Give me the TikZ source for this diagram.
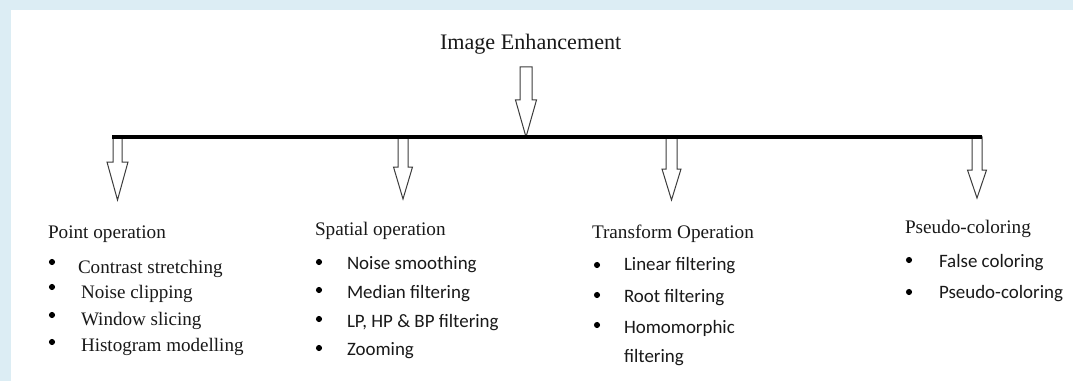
\documentclass[tikz,border=0pt]{standalone}
\usepackage{fontspec}
\setmainfont{Liberation Serif}
\newfontfamily\calib{Carlito}
\definecolor{frameblue}{RGB}{220,237,244}
\definecolor{arrowgrey}{RGB}{60,60,60}
\tikzset{
  every node/.style={inner sep=0pt, outer sep=0pt},
  lbl/.style={anchor=base west, text=black!90},
  titletext/.style={lbl, font=\fontsize{16.6pt}{18pt}\selectfont},
  headtext/.style={lbl, font=\fontsize{14.4pt}{16pt}\selectfont},
  serifitem/.style={lbl, font=\fontsize{14.3pt}{16pt}\selectfont},
  sansitem/.style={lbl, font=\calib\fontsize{14.2pt}{16pt}\selectfont},
  dot/.style={circle, fill=black, minimum size=4.6pt},
  arrowline/.style={draw=arrowgrey, line width=0.75pt, fill=white, line join=miter},
  bar/.style={draw=black, line width=2.3pt},
  % hollow block arrow pointing down: shaft half width / head half width / head start / tip
  pics/blockdown/.style args={#1/#2/#3/#4}{code={
    \path[arrowline] (-#1,0) -- (-#1,#3) -- (-#2,#3) -- (0,#4) -- (#2,#3) -- (#1,#3) -- (#1,0) -- cycle;
  }}
}
\begin{document}
\begin{tikzpicture}[x=0.75pt, y=-0.75pt]
  % page frame
  \fill[frameblue] (0,0) rectangle (1073,381);
  \fill[white] (11,10) rectangle (1073,381);
  \useasboundingbox (0,0) rectangle (1073,381);

  % root
  \node[titletext] (title) at (440,50) {Image Enhancement};
  \pic at (526,67) {blockdown=6/10.5/33/70};

  % branch arrows
  \pic at (117.5,137) {blockdown=4.5/10.5/25/63};
  \pic at (403,137) {blockdown=5/9.5/30/62};
  \pic at (671.5,137) {blockdown=5.5/9.5/32/63};
  \pic at (977,137) {blockdown=5/9.5/33/61};

  % distribution bar
  \coordinate (barL) at (112,137);
  \coordinate (barR) at (982,137);
  \draw[bar] (barL) -- (barR);

  % point operation
  \node[headtext] (point) at (48,238) {Point operation};
  \node[dot] (pb1) at (52,262) {};
  \node[dot] (pb2) at (52,287) {};
  \node[dot] (pb3) at (52,315) {};
  \node[dot] (pb4) at (52,342) {};
  \node[serifitem] (p1) at (78,273) {Contrast stretching};
  \node[serifitem] (p2) at (81,298) {Noise clipping};
  \node[serifitem] (p3) at (81,325) {Window slicing};
  \node[serifitem] (p4) at (81,351) {Histogram modelling};

  % spatial operation
  \node[headtext] (spatial) at (315,235) {Spatial operation};
  \node[dot] (sb1) at (319,262) {};
  \node[dot] (sb2) at (319,290) {};
  \node[dot] (sb3) at (319,319) {};
  \node[dot] (sb4) at (319,348) {};
  \node[sansitem] (s1) at (347,269) {Noise smoothing};
  \node[sansitem] (s2) at (347,298) {Median filtering};
  \node[sansitem] (s3) at (347,327) {LP, HP \& BP filtering};
  \node[sansitem] (s4) at (347,355) {Zooming};

  % transform operation
  \node[headtext] (transform) at (592,238) {Transform Operation};
  \node[dot] (tb1) at (597,265) {};
  \node[dot] (tb2) at (597,295) {};
  \node[dot] (tb3) at (597,325) {};
  \node[sansitem] (t1) at (624,270) {Linear filtering};
  \node[sansitem] (t2) at (624,302) {Root filtering};
  \node[sansitem] (t3) at (624,333) {Homomorphic};
  \node[sansitem] (t4) at (624,362) {filtering};

  % pseudo-coloring
  \node[headtext] (pseudo) at (905,233) {Pseudo-coloring};
  \node[dot] (cb1) at (909,260) {};
  \node[dot] (cb2) at (909,292) {};
  \node[sansitem] (c1) at (939,267) {False coloring};
  \node[sansitem] (c2) at (939,298) {Pseudo-coloring};
\end{tikzpicture}
\end{document}
